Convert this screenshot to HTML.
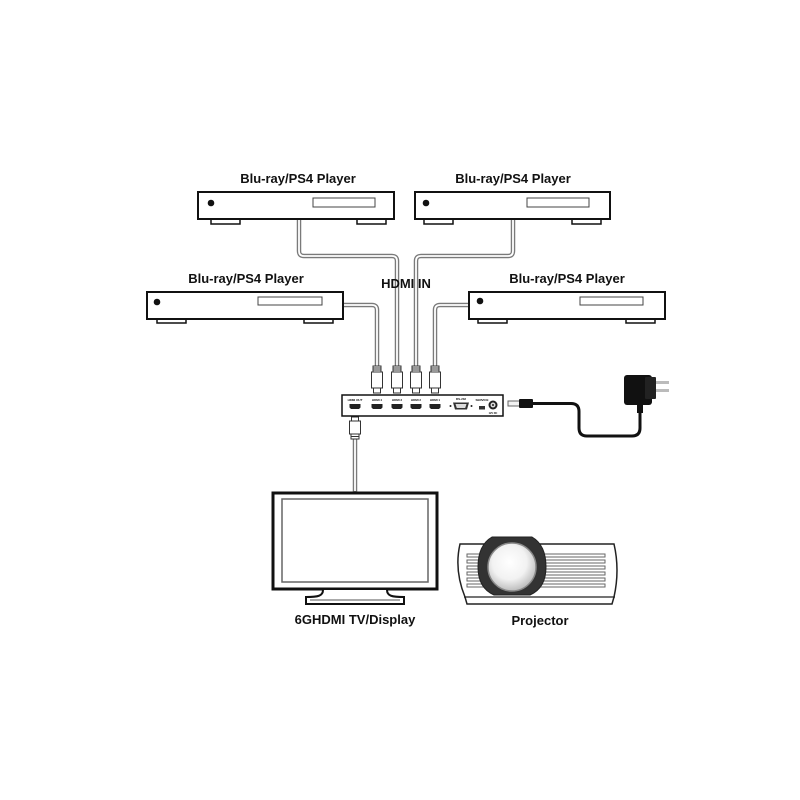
<!DOCTYPE html>
<html><head><meta charset="utf-8"><style>
html,body{margin:0;padding:0;background:#fff;}
svg{display:block;}
text{font-family:"Liberation Sans",sans-serif;font-weight:bold;fill:#111;}
</style></head><body>
<svg width="800" height="800" viewBox="0 0 800 800" xmlns="http://www.w3.org/2000/svg">
<defs>
<radialGradient id="lens" cx="0.45" cy="0.4" r="0.6">
<stop offset="0" stop-color="#ffffff"/><stop offset="0.6" stop-color="#f2f2f2"/><stop offset="1" stop-color="#bdbdbd"/>
</radialGradient>
</defs>
<rect width="800" height="800" fill="#fff"/>

<!-- cables -->
<g fill="none" stroke-linejoin="round">
<g stroke="#7a7a7a" stroke-width="4.5">
<path d="M343,305 L372,305 Q377,305 377,310 L377,368"/>
<path d="M299,219 L299,251 Q299,256 304,256 L392,256 Q397,256 397,261 L397,368"/>
<path d="M513,219 L513,251 Q513,256 508,256 L421,256 Q416,256 416,261 L416,368"/>
<path d="M468,305 L440,305 Q435,305 435,310 L435,368"/>
<path d="M355,438 L355,492"/>
</g>
<g stroke="#fff" stroke-width="1.8">
<path d="M343,305 L372,305 Q377,305 377,310 L377,368"/>
<path d="M299,219 L299,251 Q299,256 304,256 L392,256 Q397,256 397,261 L397,368"/>
<path d="M513,219 L513,251 Q513,256 508,256 L421,256 Q416,256 416,261 L416,368"/>
<path d="M468,305 L440,305 Q435,305 435,310 L435,368"/>
<path d="M355,438 L355,491"/>
</g>
</g>

<!-- players -->
<g stroke="#111" fill="#fff">
<!-- top-left -->
<rect x="211" y="218" width="29" height="6" stroke-width="1.5"/>
<rect x="357" y="218" width="29" height="6" stroke-width="1.5"/>
<rect x="198" y="192" width="196" height="27" stroke-width="2"/>
<rect x="313" y="198" width="62" height="9" stroke-width="1" stroke="#444"/>
<!-- top-right -->
<rect x="424" y="218" width="29" height="6" stroke-width="1.5"/>
<rect x="572" y="218" width="29" height="6" stroke-width="1.5"/>
<rect x="415" y="192" width="195" height="27" stroke-width="2"/>
<rect x="527" y="198" width="62" height="9" stroke-width="1" stroke="#444"/>
<!-- bottom-left -->
<rect x="157" y="317" width="29" height="6" stroke-width="1.5"/>
<rect x="304" y="317" width="29" height="6" stroke-width="1.5"/>
<rect x="147" y="292" width="196" height="27" stroke-width="2"/>
<rect x="258" y="297" width="64" height="8" stroke-width="1" stroke="#444"/>
<!-- bottom-right -->
<rect x="478" y="317" width="29" height="6" stroke-width="1.5"/>
<rect x="626" y="317" width="29" height="6" stroke-width="1.5"/>
<rect x="469" y="292" width="196" height="27" stroke-width="2"/>
<rect x="580" y="297" width="63" height="8" stroke-width="1" stroke="#444"/>
</g>
<g fill="#111">
<circle cx="211" cy="203" r="3.3"/>
<circle cx="426" cy="203" r="3.3"/>
<circle cx="157" cy="302" r="3.3"/>
<circle cx="480" cy="301" r="3.3"/>
</g>

<!-- labels -->
<text x="298" y="183" font-size="13" text-anchor="middle">Blu-ray/PS4 Player</text>
<text x="513" y="183" font-size="13" text-anchor="middle">Blu-ray/PS4 Player</text>
<text x="246" y="283" font-size="13" text-anchor="middle">Blu-ray/PS4 Player</text>
<text x="567" y="283" font-size="13" text-anchor="middle">Blu-ray/PS4 Player</text>
<text x="406" y="288" font-size="13" text-anchor="middle">HDMI IN</text>

<!-- input connectors -->
<g stroke="#333" stroke-width="1" fill="#fff">
<g transform="translate(377,0)">
<rect x="-4" y="366" width="8" height="6"/><line x1="-4" y1="368" x2="4" y2="368"/><line x1="-4" y1="370" x2="4" y2="370"/>
<rect x="-5.5" y="372" width="11" height="16"/><rect x="-3.5" y="388" width="7" height="5"/>
</g>
<g transform="translate(397,0)">
<rect x="-4" y="366" width="8" height="6"/><line x1="-4" y1="368" x2="4" y2="368"/><line x1="-4" y1="370" x2="4" y2="370"/>
<rect x="-5.5" y="372" width="11" height="16"/><rect x="-3.5" y="388" width="7" height="5"/>
</g>
<g transform="translate(416,0)">
<rect x="-4" y="366" width="8" height="6"/><line x1="-4" y1="368" x2="4" y2="368"/><line x1="-4" y1="370" x2="4" y2="370"/>
<rect x="-5.5" y="372" width="11" height="16"/><rect x="-3.5" y="388" width="7" height="5"/>
</g>
<g transform="translate(435,0)">
<rect x="-4" y="366" width="8" height="6"/><line x1="-4" y1="368" x2="4" y2="368"/><line x1="-4" y1="370" x2="4" y2="370"/>
<rect x="-5.5" y="372" width="11" height="16"/><rect x="-3.5" y="388" width="7" height="5"/>
</g>
<!-- output connector -->
<g transform="translate(355,0)">
<rect x="-3.5" y="417" width="7" height="4"/>
<rect x="-5.5" y="421" width="11" height="13"/>
<rect x="-4" y="434" width="8" height="5"/><line x1="-4" y1="436.5" x2="4" y2="436.5"/>
</g>
</g>

<!-- switch box -->
<rect x="342" y="395" width="161" height="21" fill="#fff" stroke="#111" stroke-width="1.5"/>
<g font-size="3" fill="#555">
<text x="355" y="401" text-anchor="middle" font-size="3">HDMI OUT</text>
<text x="377" y="401" text-anchor="middle" font-size="3">HDMI 4</text>
<text x="397" y="401" text-anchor="middle" font-size="3">HDMI 3</text>
<text x="416" y="401" text-anchor="middle" font-size="3">HDMI 2</text>
<text x="435" y="401" text-anchor="middle" font-size="3">HDMI 1</text>
<text x="461" y="400" text-anchor="middle" font-size="3">RS-232</text>
<text x="482" y="401" text-anchor="middle" font-size="3">SERVICE</text>
<text x="493" y="414" text-anchor="middle" font-size="2.5">12V DC</text>
</g>
<g fill="#222">
<path d="M349.5,404 h11 v3.5 l-1.5,1.5 h-8 l-1.5,-1.5 z"/>
<path d="M371.5,404 h11 v3.5 l-1.5,1.5 h-8 l-1.5,-1.5 z"/>
<path d="M391.5,404 h11 v3.5 l-1.5,1.5 h-8 l-1.5,-1.5 z"/>
<path d="M410.5,404 h11 v3.5 l-1.5,1.5 h-8 l-1.5,-1.5 z"/>
<path d="M429.5,404 h11 v3.5 l-1.5,1.5 h-8 l-1.5,-1.5 z"/>
<path d="M453,402.5 h16 l-2,7 h-12 z" fill="#333"/>
<path d="M455.5,404 h11 l-1.3,4 h-8.4 z" fill="#ddd"/>
<circle cx="450.5" cy="406" r="1"/><circle cx="471.5" cy="406" r="1"/>
<rect x="479" y="406" width="6" height="3.5" fill="#333"/>
<circle cx="493" cy="405" r="4.5"/>
<circle cx="493" cy="405" r="2.5" fill="#ddd"/>
<circle cx="493" cy="405" r="1" fill="#222"/>
</g>

<!-- DC plug & adapter -->
<rect x="508" y="401" width="12" height="5" fill="#f2f2f2" stroke="#666" stroke-width="1"/>
<rect x="519" y="399" width="14" height="9" rx="1" fill="#111"/>
<path d="M532,403.5 L571,403.5 Q579,403.5 579,411.5 L579,428 Q579,436 587,436 L632,436 Q640,436 640,428 L640,410" fill="none" stroke="#111" stroke-width="3"/>
<rect x="637" y="403" width="6" height="10" fill="#111"/>
<rect x="624" y="375" width="28" height="30" rx="3" fill="#111"/>
<rect x="645" y="377" width="11" height="22" rx="1" fill="#222"/>
<rect x="656" y="381" width="13" height="3" fill="#bbb"/>
<rect x="656" y="389" width="13" height="3" fill="#bbb"/>

<!-- TV -->
<rect x="273" y="493" width="164" height="96" fill="#fff" stroke="#111" stroke-width="3"/>
<rect x="282" y="499" width="146" height="83" fill="#fff" stroke="#666" stroke-width="1.5"/>
<path d="M323,590 C323,596 318,597 306,597 L306,604 L404,604 L404,597 C392,597 387,596 387,590" fill="#fff" stroke="#111" stroke-width="2"/>
<line x1="310" y1="600" x2="400" y2="600" stroke="#555" stroke-width="1"/>
<text x="355" y="624" font-size="13" text-anchor="middle">6GHDMI TV/Display</text>

<!-- Projector -->
<path d="M460,544 L614,544 Q620,570 614,597 L612,604 L467,604 L465,597 Q454,570 460,544 Z" fill="#fff" stroke="#222" stroke-width="1.5"/>
<line x1="464" y1="597" x2="615" y2="597" stroke="#222" stroke-width="1.2"/>
<g fill="#fff" stroke="#666" stroke-width="1">
<rect x="467" y="554" width="138" height="3"/>
<rect x="467" y="560" width="138" height="3"/>
<rect x="467" y="566" width="138" height="3"/>
<rect x="467" y="572" width="138" height="3"/>
<rect x="467" y="578" width="138" height="3"/>
<rect x="467" y="584" width="138" height="3"/>
</g>
<path d="M492,537 L532,537 Q546,545 546,567 Q546,588 530,595 L494,595 Q478,588 478,567 Q478,545 492,537 Z" fill="#333" stroke="#222" stroke-width="1"/>
<circle cx="512" cy="567" r="24" fill="url(#lens)" stroke="#888" stroke-width="1.5"/>
<text x="540" y="625" font-size="13" text-anchor="middle">Projector</text>
</svg>
</body></html>
